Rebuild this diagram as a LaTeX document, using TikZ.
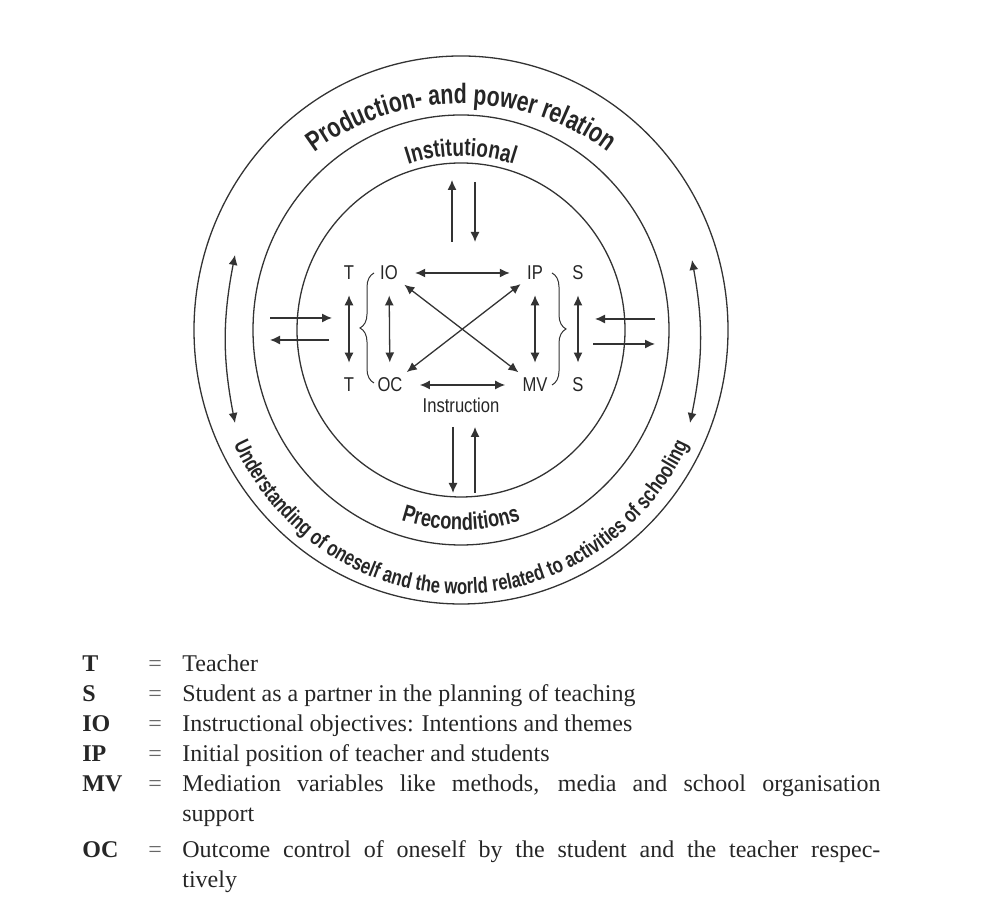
\documentclass[tikz,border=0pt]{standalone}
\usepackage{fontspec}
\setmainfont{Liberation Serif}
\newfontfamily\condfont[FakeStretch=0.83]{Liberation Sans}
\newfontfamily\arcfont[FakeStretch=0.76]{Liberation Sans}
\usetikzlibrary{arrows.meta, calc, decorations.text, decorations.pathreplacing}
\tikzset{
    my-ring/.style={
        draw=black!80, line width=0.65pt
    },
    my-label/.style={
        font=\condfont\fontsize{10}{12}\selectfont, inner sep=1.5pt, text=black!85
    },
    my-arrow/.style={
        draw=black!80, line width=0.65pt, -{Latex[length=5pt, width=4.5pt]}
    },
    my-both/.style={
        draw=black!80, line width=0.65pt,
        {Latex[length=5pt, width=4.5pt]}-{Latex[length=5pt, width=4.5pt]}
    },
    my-brace/.style={
        draw=black!80, line width=0.5pt, decorate, decoration={brace, amplitude=7pt}
    },
    my-arc-text/.style={
        decorate, decoration={text along path, text align=center, text={#1}}
    },
    my-key/.style={
        font=\fontsize{12}{15}\selectfont\bfseries, anchor=base west, inner sep=0pt, text=black!85
    },
    my-equals/.style={
        font=\fontsize{12}{15}\selectfont, anchor=base west, inner sep=0pt, text=black!60
    },
    my-text/.style={
        font=\fontsize{12}{15}\selectfont, anchor=base west, inner sep=0pt,
        text width=349pt, align=justify, text=black!85
    },
}

\begin{document}
\begin{tikzpicture}[x=0.5pt, y=0.5pt]
    \useasboundingbox (0,0) rectangle (989,913);

    % CENTRE AND RINGS
    \coordinate[] (C) at (461,583);
    \draw[my-ring] (C) ellipse [x radius=267, y radius=274];
    \draw[my-ring] (C) ellipse [x radius=208, y radius=215];
    \draw[my-ring] (C) ellipse [x radius=164, y radius=167];

    % RING TEXTS
    \path[my-arc-text={|\arcfont\bfseries\fontsize{14}{16}\selectfont\color{black!85}|Production- and power relation}]
        ($(C) + (165:238 and 226)$) arc[start angle=165, end angle=15, x radius=238, y radius=226];
    \path[my-arc-text={|\arcfont\bfseries\fontsize{12.5}{14}\selectfont\color{black!85}|Institutional}]
        ($(C) + (125:172 and 174)$) arc[start angle=125, end angle=55, x radius=172, y radius=174];
    \path[my-arc-text={|\arcfont\bfseries\fontsize{12}{14}\selectfont\color{black!85}|Preconditions}]
        ($(C) + (230:196 and 200)$) arc[start angle=230, end angle=310, x radius=196, y radius=200];
    \path[my-arc-text={|\arcfont\bfseries\fontsize{11}{13}\selectfont\color{black!85}|Understanding of oneself and the world related to activities of schooling}]
        ($(C) + (190:252 and 264)$) arc[start angle=190, end angle=350, x radius=252, y radius=264];

    % INSTRUCTION LABELS
    \node[my-label] (T1)    at ($(C) + (-112, 57)$)  {T};
    \node[my-label] (T2)    at ($(C) + (-112, -55)$) {T};
    \node[my-label] (IO)    at ($(C) + (-72, 57)$)   {IO};
    \node[my-label] (OC)    at ($(C) + (-71, -55)$)  {OC};
    \node[my-label] (IP)    at ($(C) + (74, 57)$)    {IP};
    \node[my-label] (MV)    at ($(C) + (74, -55)$)   {MV};
    \node[my-label] (S1)    at ($(C) + (117, 57)$)   {S};
    \node[my-label] (S2)    at ($(C) + (117, -55)$)  {S};
    \node[my-label] (INSTR) at ($(C) + (0, -75)$)    {Instruction};

    % INSTRUCTION ARROWS
    \draw[my-both, shorten <=6pt, shorten >=6pt] (T1) -- (T2);
    \draw[my-both, shorten <=6pt, shorten >=6pt] (IO) -- (OC);
    \draw[my-both, shorten <=6pt, shorten >=6pt] (IP) -- (MV);
    \draw[my-both, shorten <=6pt, shorten >=6pt] (S1) -- (S2);
    \draw[my-both, shorten <=7pt, shorten >=7pt] (IO) -- (IP);
    \draw[my-both, shorten <=7pt, shorten >=7pt] (OC) -- (MV);
    \draw[my-both, shorten <=2pt, shorten >=2pt] (IO) -- (MV);
    \draw[my-both, shorten <=2pt, shorten >=2pt] (OC) -- (IP);

    % BRACES
    \draw[my-brace] ($(C) + (-87, -53)$) -- ($(C) + (-87, 57)$);
    \draw[my-brace] ($(C) + (91, 57)$)   -- ($(C) + (91, -55)$);

    % INSTITUTIONAL AND PRECONDITIONS ARROWS
    \coordinate[] (INSTUPFROM)   at ($(C) + (-9, 88)$);
    \coordinate[] (INSTUPTO)     at ($(C) + (-9, 150)$);
    \coordinate[] (INSTDOWNFROM) at ($(C) + (14, 148)$);
    \coordinate[] (INSTDOWNTO)   at ($(C) + (14, 88)$);
    \coordinate[] (PRECDOWNFROM) at ($(C) + (-8, -97)$);
    \coordinate[] (PRECDOWNTO)   at ($(C) + (-8, -163)$);
    \coordinate[] (PRECUPFROM)   at ($(C) + (14, -163)$);
    \coordinate[] (PRECUPTO)     at ($(C) + (14, -97)$);
    \draw[my-arrow] (INSTUPFROM)   -- (INSTUPTO);
    \draw[my-arrow] (INSTDOWNFROM) -- (INSTDOWNTO);
    \draw[my-arrow] (PRECDOWNFROM) -- (PRECDOWNTO);
    \draw[my-arrow] (PRECUPFROM)   -- (PRECUPTO);

    % SIDE ARROWS
    \coordinate[] (LEFTINFROM)  at ($(C) + (-191, 12)$);
    \coordinate[] (LEFTINTO)    at ($(C) + (-129, 12)$);
    \coordinate[] (LEFTOUTFROM) at ($(C) + (-132, -10)$);
    \coordinate[] (LEFTOUTTO)   at ($(C) + (-191, -10)$);
    \coordinate[] (RIGHTINFROM)  at ($(C) + (194, 11)$);
    \coordinate[] (RIGHTINTO)    at ($(C) + (134, 11)$);
    \coordinate[] (RIGHTOUTFROM) at ($(C) + (132, -14)$);
    \coordinate[] (RIGHTOUTTO)   at ($(C) + (194, -14)$);
    \draw[my-arrow] (LEFTINFROM)   -- (LEFTINTO);
    \draw[my-arrow] (LEFTOUTFROM)  -- (LEFTOUTTO);
    \draw[my-arrow] (RIGHTINFROM)  -- (RIGHTINTO);
    \draw[my-arrow] (RIGHTOUTFROM) -- (RIGHTOUTTO);

    % CURVED ARROWS IN OUTER RING
    \coordinate[] (LARCTOP) at ($(C) + (-226, 75)$);
    \coordinate[] (LARCBOT) at ($(C) + (-226, -93)$);
    \coordinate[] (RARCTOP) at ($(C) + (231, 70)$);
    \coordinate[] (RARCBOT) at ($(C) + (229, -93)$);
    \draw[my-both] (LARCTOP) to[bend right=11] (LARCBOT);
    \draw[my-both] (RARCTOP) to[bend left=11]  (RARCBOT);

    % LEGEND
    \node[my-key]    (KEYT)  at (82, 241)  {T};
    \node[my-equals] (EQT)   at (148, 241) {=};
    \node[my-text]   (TXTT)  at (182, 241) {Teacher};
    \node[my-key]    (KEYS)  at (82, 211)  {S};
    \node[my-equals] (EQS)   at (148, 211) {=};
    \node[my-text]   (TXTS)  at (182, 211) {Student as a partner in the planning of teaching};
    \node[my-key]    (KEYIO) at (82, 181)  {IO};
    \node[my-equals] (EQIO)  at (148, 181) {=};
    \node[my-text]   (TXTIO) at (182, 181) {Instructional objectives: Intentions and themes};
    \node[my-key]    (KEYIP) at (82, 151)  {IP};
    \node[my-equals] (EQIP)  at (148, 151) {=};
    \node[my-text]   (TXTIP) at (182, 151) {Initial position of teacher and students};
    \node[my-key]    (KEYMV) at (82, 121)  {MV};
    \node[my-equals] (EQMV)  at (148, 121) {=};
    \node[my-text]   (TXTMV) at (182, 121) {Mediation variables like methods, media and school organisation\linebreak support};
    \node[my-key]    (KEYOC) at (82, 55)   {OC};
    \node[my-equals] (EQOC)  at (148, 55)  {=};
    \node[my-text]   (TXTOC) at (182, 55)  {Outcome control of oneself by the student and the teacher respec-\linebreak tively};

\end{tikzpicture}
\end{document}
